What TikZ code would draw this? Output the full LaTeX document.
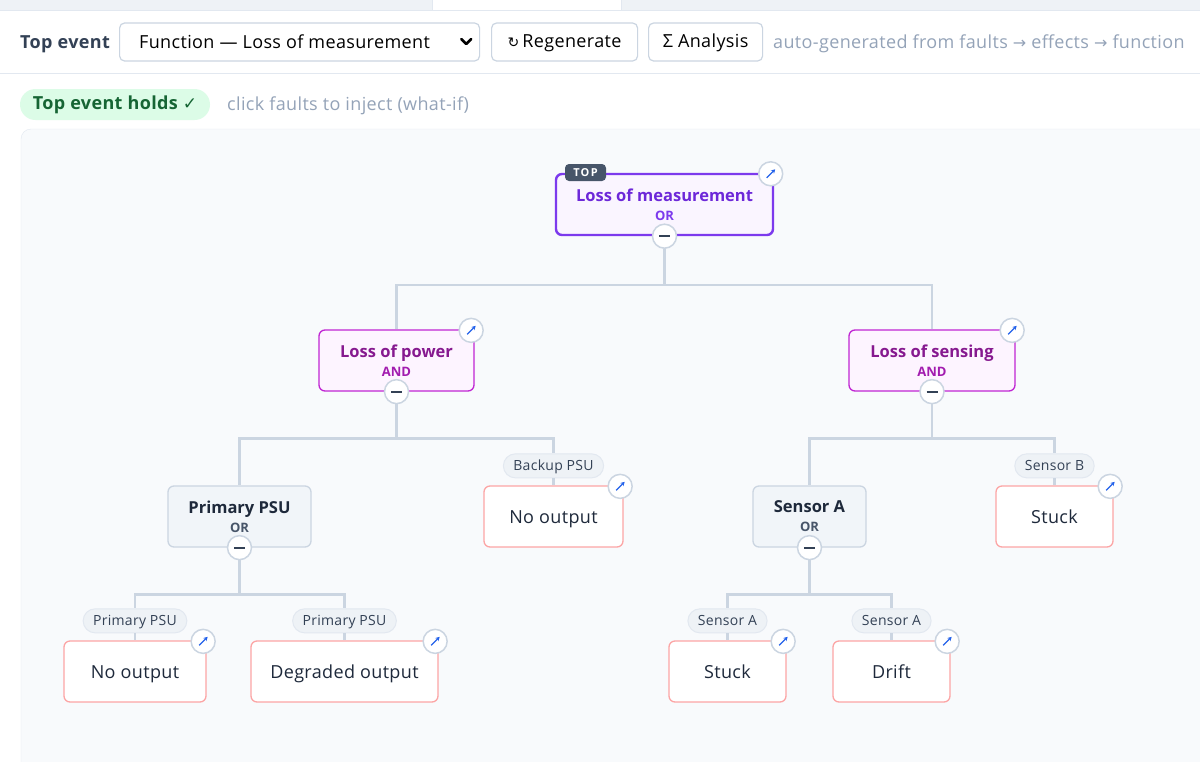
\documentclass[tikz,border=0pt]{standalone}
\usepackage{fontspec}
\setmainfont{Open Sans}
\newfontfamily\symfont{DejaVu Sans}
\usetikzlibrary{positioning,calc,arrows.meta}

\definecolor{slateline}{HTML}{CBD5E1}
\definecolor{slatefaint}{HTML}{E2E8F0}
\definecolor{canvasbg}{HTML}{F8FAFC}
\definecolor{mutedtext}{HTML}{94A3B8}
\definecolor{inktext}{HTML}{1E293B}
\definecolor{toptext}{HTML}{334155}
\definecolor{subtext}{HTML}{475569}
\definecolor{topedge}{HTML}{7C3AED}
\definecolor{topfill}{HTML}{FAF5FF}
\definecolor{topink}{HTML}{6D28D9}
\definecolor{andedge}{HTML}{C026D3}
\definecolor{andfill}{HTML}{FDF4FF}
\definecolor{andink}{HTML}{86198F}
\definecolor{andsub}{HTML}{A21CAF}
\definecolor{orfill}{HTML}{F1F5F9}
\definecolor{leafedge}{HTML}{FCA5A5}
\definecolor{tagfill}{HTML}{EEF2F6}
\definecolor{linkblue}{HTML}{2563EB}
\definecolor{okfill}{HTML}{DCFCE7}
\definecolor{okink}{HTML}{166534}
\definecolor{badgefill}{HTML}{475569}

% two-line gate caption: name, then gate type
\newcommand{\gatelabel}[3]{\bfseries #1\\{\fontsize{13}{19}\selectfont\bfseries\color{#3}#2}}
\newcommand{\uifont}{\fontsize{18}{18}\selectfont\addfontfeature{LetterSpace=2}}
\newcommand{\arr}{{\symfont\fontsize{16}{16}\selectfont →}}

\tikzset{
  field/.style={draw=slateline,line width=1.2,rounded corners=5,fill=white,
    minimum height=38,inner sep=0,font=\uifont,text=black},
  gatebox/.style={rounded corners=6,minimum height=61,inner sep=0,align=center,
    font=\fontsize{16.5}{19}\selectfont},
  topgate/.style={gatebox,draw=topedge,line width=2.4,fill=topfill,text=topink},
  andgate/.style={gatebox,draw=andedge,line width=1.3,fill=andfill,text=andink},
  orgate/.style={gatebox,draw=slateline,line width=1.3,fill=orfill,text=inktext},
  leaf/.style={rounded corners=6,draw=leafedge,line width=1.3,fill=white,
    minimum height=61,inner sep=0,text height=16,text depth=2,text=inktext,font=\uifont},
  tag/.style={rounded corners=12,draw=slatefaint,fill=tagfill,line width=1,
    minimum height=24,inner xsep=10,inner ysep=0,text height=10,text depth=0,text=toptext,
    font=\fontsize{14}{14}\selectfont\addfontfeature{LetterSpace=2}},
  knob/.style={circle,draw=slateline,line width=1.5,fill=white,minimum size=24,
    inner sep=0,path picture={\draw[line width=2.2,draw=toptext]
      ([xshift=-5.5]path picture bounding box.center) --
      ([xshift=5.5]path picture bounding box.center);}},
  linkbtn/.style={circle,draw=slateline,line width=1.5,fill=white,minimum size=24,
    inner sep=0,path picture={\draw[line width=1.3,draw=linkblue,-{Stealth[length=4,width=4.5]}]
      ([shift={(-4,4)}]path picture bounding box.center) --
      ([shift={(4.5,-4.5)}]path picture bounding box.center);}},
  wire/.style={draw=slateline,line width=2.2},
}

\begin{document}
\begin{tikzpicture}[x=1pt,y=-1pt]
\clip (0,0) rectangle (1200,761);
\fill[white] (0,0) rectangle (1200,761);

% tab strip and toolbar
\fill[tagfill] (0,0) rectangle (1200,10);
\fill[white] (432,0) rectangle (621,10);
\draw[slatefaint] (0,10) -- (1200,10);
\draw[slatefaint] (432,0) -- (432,10) (621,0) -- (621,10);
\draw[slatefaint] (0,73) -- (1200,73);

\node[anchor=base west,inner sep=0,font=\uifont\bfseries,text=toptext] (toplabel) at (20,48) {Top event};
\node[field,minimum width=360,anchor=west] (select) at (119,42) {};
\node[anchor=base west,inner sep=0,font=\uifont] (selecttext) at (139,48) {Function — Loss of measurement};
\draw[line width=2.6,line cap=round,line join=round]
  ($(select.east)+(-19,-3)$) -- ++(5,5) -- ++(5,-5);
\node[field,minimum width=146,anchor=west,text height=14,text depth=3] (regen) at (491,42) {{\symfont\fontsize{14}{14}\selectfont ↻}\,Regenerate};
\node[field,minimum width=114,anchor=west,text height=14,text depth=3] (analysis) at (648,42) {Σ Analysis};
\node[anchor=base west,inner sep=0,font=\uifont,text=mutedtext] (hint) at (773,48)
  {auto-generated from faults \arr{} effects \arr{} function};

% status line
\node[rounded corners=15.5,fill=okfill,minimum width=190,minimum height=31,inner sep=0,
  text height=13,text depth=4,font=\uifont\bfseries,text=okink] (status) at (115,104.5)
  {Top event holds {\symfont\fontsize{17}{17}\selectfont ✓}};
\node[anchor=base west,inner sep=0,font=\uifont,text=mutedtext] (whatif) at (227,110) {click faults to inject (what-if)};

% canvas
\draw[fill=canvasbg,draw=slatefaint,rounded corners=10] (21,129) rectangle (1240,800);

% gates
\node[topgate,minimum width=217] (top) at (664.5,204.5) {\gatelabel{Loss of measurement}{OR}{topedge}};
\node[andgate,minimum width=155] (power) at (396.5,360.5) {\gatelabel{Loss of power}{AND}{andsub}};
\node[andgate,minimum width=166] (sensing) at (932,360.5) {\gatelabel{Loss of sensing}{AND}{andsub}};
\node[orgate,minimum width=143] (psu) at (239.5,516.5) {\gatelabel{Primary PSU}{OR}{subtext}};
\node[orgate,minimum width=113] (sensa) at (809.5,516.5) {\gatelabel{Sensor A}{OR}{subtext}};

% basic faults
\node[leaf,minimum width=139] (backupout) at (553.5,516.5) {No output};
\node[leaf,minimum width=117] (sensbstuck) at (1054.5,516.5) {Stuck};
\node[leaf,minimum width=142] (psuout) at (135,671.5) {No output};
\node[leaf,minimum width=187] (psudeg) at (344.5,671.5) {Degraded output};
\node[leaf,minimum width=117] (sensastuck) at (727.5,671.5) {Stuck};
\node[leaf,minimum width=117] (sensadrift) at (891.5,671.5) {Drift};

\node[tag,above=7pt of backupout] (backuptag) {Backup PSU};
\node[tag,above=7pt of sensbstuck] (sensbtag) {Sensor B};
\node[tag,above=7pt of psuout] (psuouttag) {Primary PSU};
\node[tag,above=7pt of psudeg] (psudegtag) {Primary PSU};
\node[tag,above=7pt of sensastuck] (sensastucktag) {Sensor A};
\node[tag,above=7pt of sensadrift] (sensadrifttag) {Sensor A};

% collapse knobs
\node[knob] (topknob) at (top.south) {};
\node[knob] (powerknob) at (power.south) {};
\node[knob] (sensingknob) at (sensing.south) {};
\node[knob] (psuknob) at (psu.south) {};
\node[knob] (sensaknob) at (sensa.south) {};

% wiring
\draw[wire] (topknob.south) -- ++(0,36) -| (power.north);
\draw[wire] (topknob.south) -- ++(0,36) -| (sensing.north);
\draw[wire] (powerknob.south) -- ++(0,34) -| (psu.north);
\draw[wire] (powerknob.south) -- ++(0,34) -| (backuptag.north);
\draw[wire] (sensingknob.south) -- ++(0,34) -| (sensa.north);
\draw[wire] (sensingknob.south) -- ++(0,34) -| (sensbtag.north);
\draw[wire] (psuknob.south) -- ++(0,34) -| (psuouttag.north);
\draw[wire] (psuknob.south) -- ++(0,34) -| (psudegtag.north);
\draw[wire] (sensaknob.south) -- ++(0,34) -| (sensastucktag.north);
\draw[wire] (sensaknob.south) -- ++(0,34) -| (sensadrifttag.north);
\foreach \t/\l in {backuptag/backupout,sensbtag/sensbstuck,psuouttag/psuout,
  psudegtag/psudeg,sensastucktag/sensastuck,sensadrifttag/sensadrift}
  \draw[wire] (\t.south) -- (\l.north);

% badge and open links
\node[rounded corners=4,fill=badgefill,text=white,minimum width=41,minimum height=17,
  inner sep=0,font=\fontsize{11}{11}\selectfont\bfseries\addfontfeature{LetterSpace=12}]
  (topbadge) at (585.5,172.5) {TOP};
\foreach \g in {top,power,sensing,backupout,sensbstuck,psuout,psudeg,sensastuck,sensadrift}
  \node[linkbtn,xshift=-3.5,yshift=-1] (\g link) at (\g.north east) {};
\end{tikzpicture}
\end{document}
